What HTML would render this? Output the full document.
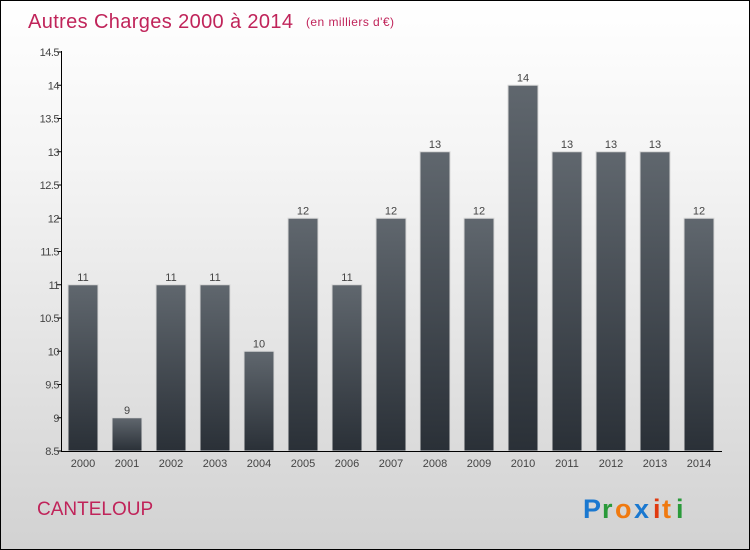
<!DOCTYPE html>
<html><head><meta charset="utf-8"><style>
body{margin:0}
#c{width:750px;height:550px;position:relative;box-sizing:border-box;border:1px solid #000;background:linear-gradient(#fff,#f4f4f4 30%,#d2d2d2);font-family:"Liberation Sans",sans-serif;overflow:hidden}
</style></head><body>
<div id="c">
<svg width="750" height="550" style="position:absolute;left:0;top:0" id="s">
<defs><linearGradient id="g" x1="0" y1="0" x2="0" y2="1"><stop offset="0" stop-color="#60676e"/><stop offset="1" stop-color="#2a3037"/></linearGradient></defs>
<text x="27" y="27" font-size="20" fill="#c0245a" textLength="265">Autres Charges 2000 à 2014</text>
<text x="305" y="25" font-size="12" fill="#c0245a" textLength="88">(en milliers d'€)</text>
<text x="36" y="514" font-size="19" fill="#c0245a">CANTELOUP</text>
<g font-size="27" font-weight="bold" font-family="Liberation Sans,sans-serif">
<text x="582" y="517" fill="#1a78d0">P</text><text x="601" y="517" fill="#2a9a3a">r</text><text x="614" y="517" fill="#f07a10">o</text><text x="633" y="517" fill="#1a78d0">x</text><text x="652" y="517" fill="#e03a10">i</text><text x="661" y="517" fill="#f07a10">t</text><text x="675" y="517" fill="#2a9a3a">i</text>
</g>
<g id="plot"></g>
</svg>
</div>
<script>
const categories=["2000","2001","2002","2003","2004","2005","2006","2007","2008","2009","2010","2011","2012","2013","2014"];
const values=[11,9,11,11,10,12,11,12,13,12,14,13,13,13,12];
const yTicks=[8.5,9,9.5,10,10.5,11,11.5,12,12.5,13,13.5,14,14.5];
const NS="http://www.w3.org/2000/svg";
const g=document.getElementById('plot');
const y=v=>450-(v-8.5)*(399/6);
const x=i=>82+i*44;
function el(t,a){const e=document.createElementNS(NS,t);for(const k in a)e.setAttribute(k,a[k]);g.appendChild(e);return e;}
yTicks.forEach(t=>{
  const l=el('line',{x1:56,x2:61,y1:y(t),y2:y(t),stroke:'#000'});
  
  
  const tx=el('text',{x:58,y:y(t)+4,'font-size':11,fill:'#444','text-anchor':'end','letter-spacing':'-0.5'});
  tx.textContent=String(t);
  
  
});
values.forEach((v,i)=>{
  const r=el('rect',{x:x(i)-15,y:y(v),width:30,height:450-y(v),fill:'url(#g)',stroke:'#d8d8d8','stroke-width':1});
  
  
  const t=el('text',{x:x(i),y:y(v)-4,'font-size':11,fill:'#444','text-anchor':'middle'});
  t.textContent=String(v);
  
  
  const c=el('text',{x:x(i),y:466,'font-size':11,fill:'#444','text-anchor':'middle'});
  c.textContent=categories[i];
  
  
});
const ya=el('line',{x1:60.5,x2:60.5,y1:50,y2:450,stroke:'#000'});


const xa=el('line',{x1:60,x2:721,y1:450.5,y2:450.5,stroke:'#000'});


</script>
</body></html>
